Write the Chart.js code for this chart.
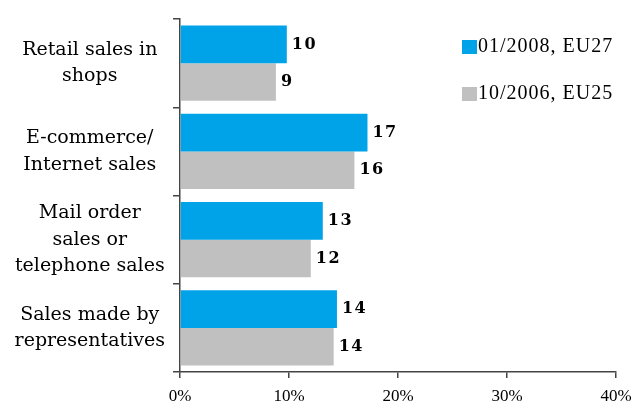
<!DOCTYPE html>
<html>
<head>
<meta charset="utf-8">
<script src="https://cdn.jsdelivr.net/npm/chart.js@4/dist/chart.umd.min.js"></script>
<style>
  html, body { margin: 0; padding: 0; background: #fff; }
  #wrap { width: 633px; height: 405px; }
</style>
</head>
<body>
<div id="wrap"><canvas id="chart"></canvas></div>
<script>
const categories = [
  ["Retail sales in", "shops"],
  ["E-commerce/", "Internet sales"],
  ["Mail order", "sales or", "telephone sales"],
  ["Sales made by", "representatives"]
];
const seriesNames = ["01/2008, EU27", "10/2006, EU25"];
const eu27 = [9.8, 17.2, 13.1, 14.4];
const eu25 = [8.8, 16.0, 12.0, 14.1];
const labels27 = ["10", "17", "13", "14"];
const labels25 = ["9", "16", "12", "14"];
const xTicks = [0, 10, 20, 30, 40];

const serif = "'Liberation Serif', 'DejaVu Serif', serif";
const wideSerif = "'DejaVu Serif', serif";
const axisColor = "#444";

// value labels at the end of each bar
const valueLabels = {
  id: "valueLabels",
  afterDatasetsDraw(chart) {
    const ctx = chart.ctx;
    ctx.save();
    ctx.font = "bold 16px " + wideSerif;
    ctx.fillStyle = "#000";
    ctx.textBaseline = "middle";
    ctx.textAlign = "left";
    ctx.letterSpacing = "1.5px";
    const texts = [labels27, labels25];
    chart.data.datasets.forEach((ds, i) => {
      chart.getDatasetMeta(i).data.forEach((bar, j) => {
        ctx.fillText(texts[i][j], bar.x + 5, bar.y);
      });
    });
    ctx.restore();
  }
};

// legend drawn over the right side of the plot
const sideLegend = {
  id: "sideLegend",
  afterDraw(chart) {
    const ctx = chart.ctx;
    ctx.save();
    ctx.font = "20px " + serif;
    ctx.textBaseline = "alphabetic";
    ctx.letterSpacing = "1px";
    const baselines = [52, 99];
    chart.data.datasets.forEach((ds, i) => {
      ctx.fillStyle = ds.backgroundColor;
      ctx.fillRect(462, baselines[i] - 12, 15, 14);
      ctx.fillStyle = "#000";
      ctx.fillText(ds.label, 478, baselines[i]);
    });
    ctx.restore();
  }
};

new Chart(document.getElementById("chart"), {
  type: "bar",
  data: {
    labels: categories,
    datasets: [
      { label: seriesNames[0], data: eu27, backgroundColor: "#00A3E8" },
      { label: seriesNames[1], data: eu25, backgroundColor: "#C0C0C0" }
    ]
  },
  options: {
    indexAxis: "y",
    responsive: true,
    maintainAspectRatio: false,
    animation: false,
    layout: { padding: { top: 19, right: 17, left: 0, bottom: 0 } },
    datasets: { bar: { categoryPercentage: 0.85, barPercentage: 1.0 } },
    plugins: {
      legend: { display: false },
      tooltip: { enabled: false }
    },
    scales: {
      x: {
        min: 0,
        max: 40,
        afterBuildTicks: (scale) => { scale.ticks = xTicks.map(v => ({ value: v })); },
        afterFit: (scale) => {
          scale.height = 33;
          scale.paddingLeft = 0;
          scale.paddingRight = 0;
        },
        grid: { drawOnChartArea: false, color: axisColor, tickLength: 6, lineWidth: 1.5 },
        border: { color: axisColor, width: 1.5 },
        ticks: {
          color: "#000",
          font: { family: serif, size: 17 },
          padding: 8,
          maxRotation: 0,
          callback: (v) => v + "%"
        }
      },
      y: {
        afterFit: (scale) => {
          scale.width = 180;
          scale.paddingTop = 0;
          scale.paddingBottom = 0;
        },
        grid: { drawOnChartArea: false, color: axisColor, tickLength: 7, lineWidth: 1.5, offset: true },
        border: { color: axisColor, width: 1.5 },
        ticks: {
          color: "#000",
          font: { family: wideSerif, size: 19, lineHeight: 1.4 },
          crossAlign: "center",
          padding: 8
        }
      }
    }
  },
  plugins: [valueLabels, sideLegend]
});
</script>
</body>
</html>
